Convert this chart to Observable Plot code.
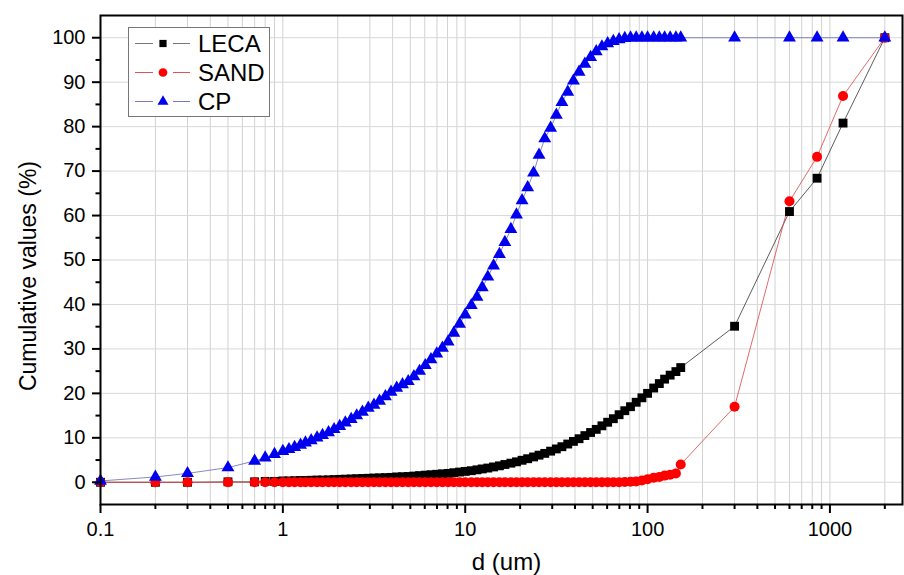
<!DOCTYPE html>
<html><head><meta charset="utf-8">
<script src="https://cdn.jsdelivr.net/npm/d3@7"></script>
<script src="https://cdn.jsdelivr.net/npm/@observablehq/plot@0.6"></script>
<style>html,body{margin:0;padding:0;background:#fff;}</style>
</head><body><div id="chart"></div>
<script>
// particle size d (um)
const sizes = [0.1,0.2,0.3,0.5,0.7,0.8,0.9,
  1.00,1.08,1.16,1.25,1.33,1.43,1.54,1.65,1.78,1.91,
  2.05,2.20,2.37,2.54,2.73,2.94,3.16,3.39,3.65,3.92,
  4.21,4.53,4.87,5.23,5.62,6.04,6.49,6.98,7.50,8.06,
  8.66,9.31,10.0,10.8,11.6,12.4,13.3,14.3,15.4,16.5,
  17.8,19.1,20.5,22.0,23.7,25.4,27.3,29.4,31.6,33.9,
  36.5,39.2,42.1,45.3,48.7,52.3,56.2,60.4,64.9,69.8,
  75.0,80.6,86.6,93.1,100,108,116,124,133,143,
  152,
  300,600,850,1180,2000];
const leca = [0,0,0,0.1,0.1,0.2,0.2,
  0.3,0.3,0.35,0.4,0.4,0.45,0.5,0.5,0.55,0.6,
  0.65,0.7,0.75,0.8,0.85,0.9,0.95,1.0,1.05,1.1,
  1.2,1.25,1.3,1.4,1.5,1.6,1.7,1.8,1.9,2.0,
  2.15,2.3,2.45,2.6,2.8,3.0,3.2,3.45,3.7,4.0,
  4.3,4.6,4.95,5.3,5.7,6.1,6.5,7.0,7.5,8.0,
  8.6,9.2,9.8,10.5,11.2,11.9,12.7,13.5,14.3,15.2,
  16.1,17.0,18.0,19.0,20.0,21.2,22.2,23.2,24.1,24.9,
  25.8,
  35.1,60.9,68.4,80.8,100];
const sand = [0,0,0,0,0,0,0,
  0,0,0,0,0,0,0,0,0,0,
  0,0,0,0,0,0,0,0,0,0,
  0,0,0,0,0,0,0,0,0,0,
  0,0,0,0,0,0,0,0,0,0,
  0,0,0,0,0,0,0,0,0,0,
  0,0,0,0,0,0,0,0,0,0,
  0.05,0.1,0.2,0.4,0.7,1.0,1.2,1.5,1.7,2.0,
  4.0,
  17.0,63.2,73.2,86.9,100];
const cp = [0.3,1.2,2.0,3.3,4.8,5.5,6.3,
  7.0,7.4,7.9,8.4,8.9,9.4,10.0,10.6,11.2,11.9,
  12.6,13.4,14.2,15.0,15.8,16.7,17.4,18.3,19.3,20.3,
  21.2,22.0,22.7,23.8,25.0,26.3,27.6,28.9,30.2,31.6,
  33.6,35.6,37.7,39.8,41.7,43.8,46.2,48.7,51.3,54.0,
  56.9,60.2,63.4,66.3,69.6,73.6,77.3,79.7,82.6,85.5,
  87.8,90.3,92.3,94.1,95.6,96.9,98.0,98.7,99.2,99.6,
  99.9,100,100,100,100,100,100,100,100,100,
  100,
  100,100,100,100,100];
const seriesNames = ["LECA","SAND","CP"];
const xMajorTicks = [0.1,1,10,100,1000];
const xMinorTicks = [0.2,0.3,0.4,0.5,0.6,0.7,0.8,0.9,2,3,4,5,6,7,8,9,20,30,40,50,60,70,80,90,200,300,400,500,600,700,800,900,2000];
const yMajorTicks = [0,10,20,30,40,50,60,70,80,90,100];
const yMinorTicks = [5,15,25,35,45,55,65,75,85,95];
const xTitle = "d (um)";
const yTitle = "Cumulative values (%)";

const font = "'Liberation Sans', Arial, sans-serif";
const rows = (vals) => sizes.map((d, i) => ({d, v: vals[i]}));
const lecaRows = rows(leca), sandRows = rows(sand), cpRows = rows(cp);
const xGrid = xMajorTicks.concat(xMinorTicks);

const plot = Plot.plot({
  width: 904, height: 575,
  marginLeft: 100, marginRight: 2, marginTop: 15, marginBottom: 71,
  style: {fontFamily: font, fontSize: "20px", color: "#000", background: "#fff", overflow: "visible"},
  x: {type: "log", domain: [0.1, 2500]},
  y: {domain: [-5, 105]},
  marks: [
    Plot.gridX(xGrid, {stroke: "#d2d2d2", strokeOpacity: 1, strokeWidth: 1}),
    Plot.gridY(yMajorTicks, {stroke: "#d8d8d8", strokeOpacity: 1, strokeWidth: 1}),
    Plot.line(lecaRows, {x: "d", y: "v", stroke: "#333", strokeWidth: 0.8}),
    Plot.line(sandRows, {x: "d", y: "v", stroke: "#d44", strokeWidth: 0.8}),
    Plot.line(cpRows, {x: "d", y: "v", stroke: "#6a6ab8", strokeWidth: 0.8}),
    Plot.dot(lecaRows, {x: "d", y: "v", symbol: "square", fill: "#000", r: 5}),
    Plot.dot(sandRows, {x: "d", y: "v", symbol: "circle", fill: "#f00", r: 5}),
    Plot.dot(cpRows, {x: "d", y: "v", symbol: "triangle", fill: "#0000ee", r: 4.8}),
    Plot.frame({stroke: "#000", strokeWidth: 2}),
    Plot.axisX(xMajorTicks, {tickSize: 9, tickPadding: 8, strokeWidth: 2, tickFormat: d => String(d), label: null}),
    Plot.axisX(xMinorTicks, {tickSize: 5, strokeWidth: 2, tickFormat: () => "", label: null}),
    Plot.axisY(yMajorTicks, {tickSize: 8, tickPadding: 7, strokeWidth: 2, label: null}),
    Plot.axisY(yMinorTicks, {tickSize: 4.5, strokeWidth: 2, tickFormat: () => "", label: null}),
    Plot.text([xTitle], {text: d => d, frameAnchor: "bottom", dy: 48, dx: 5, lineAnchor: "top", fontSize: 24}),
    Plot.text([yTitle], {text: d => d, frameAnchor: "left", textAnchor: "middle", dx: -72, dy: 16, rotate: -90, fontSize: 23})
  ]
});
document.getElementById("chart").appendChild(plot);

// legend
const svg = d3.select(plot);
const lg = svg.append("g").attr("font-family", font).attr("text-anchor", "start");
lg.append("rect").attr("x", 128.5).attr("y", 27.5).attr("width", 141).attr("height", 89)
  .attr("fill", "#fff").attr("stroke", "#777").attr("stroke-width", 1);
const legendStyle = [
  {line: "#777", fill: "#000", sym: d3.symbolSquare, size: 52},
  {line: "#d55", fill: "#f00", sym: d3.symbolCircle, size: 60},
  {line: "#7777bb", fill: "#0000ee", sym: d3.symbolTriangle, size: 52}
];
seriesNames.forEach((name, i) => {
  const y = 43.5 + i * 29;
  const st = legendStyle[i];
  lg.append("line").attr("x1", 135).attr("x2", 153).attr("y1", y).attr("y2", y).attr("stroke", st.line).attr("stroke-width", 1);
  lg.append("line").attr("x1", 173).attr("x2", 190).attr("y1", y).attr("y2", y).attr("stroke", st.line).attr("stroke-width", 1);
  lg.append("path").attr("d", d3.symbol(st.sym, st.size)()).attr("transform", `translate(163,${y})`).attr("fill", st.fill);
  lg.append("text").attr("x", 198).attr("y", y).attr("dy", "0.36em").attr("font-size", 24).attr("text-anchor", "start").attr("fill", "#000").text(name);
});
</script>
</body></html>
